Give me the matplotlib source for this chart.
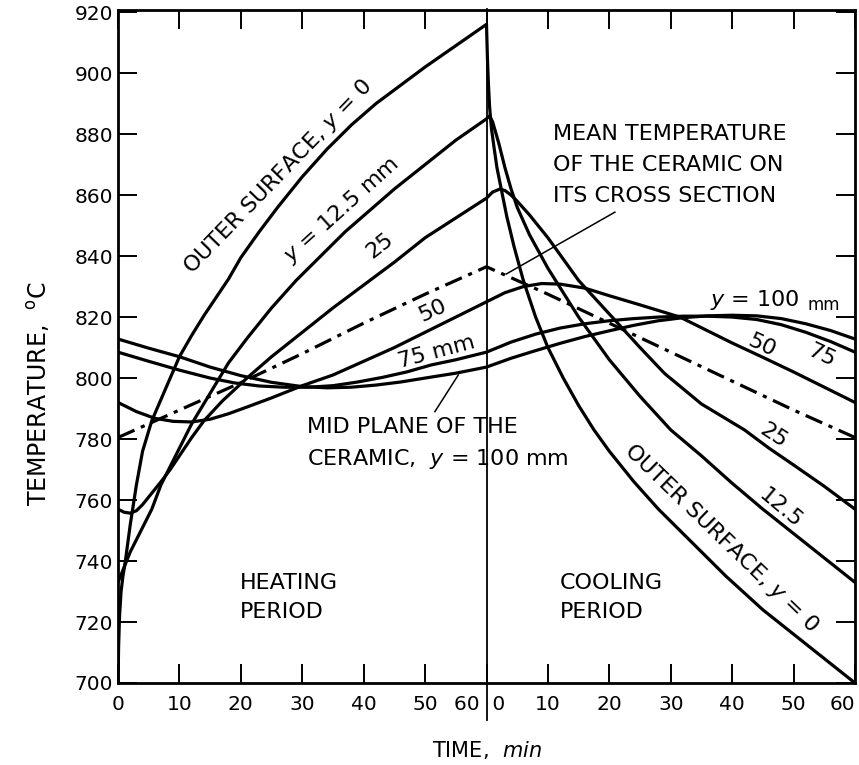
import numpy as np
import matplotlib
matplotlib.use('Agg')
import matplotlib.pyplot as plt

# time axis: 0-60 heating, 60-120 cooling (cooling minutes + 60)

# outer surface, y = 0
t_0 = [0, 0.1, 0.25, 0.5, 0.8, 1.2, 2, 3, 4, 5.5, 7, 8.5, 10, 12, 14, 16, 18, 20, 23, 26, 30, 34, 38, 42, 46, 50, 55, 60,
       60.15, 60.3, 60.5, 60.8, 61.2, 61.7, 62.5, 63.3, 64.5, 66, 68, 70, 72.5, 75, 77.5, 80, 84, 88, 93, 99, 105, 110, 115, 120]
T_0 = [700, 712, 722, 730, 735, 740, 752, 765, 776, 786, 793, 800, 807, 814, 820.5, 826.5, 832.5, 839.5, 848, 856, 866, 875, 883, 890, 896, 902, 909, 916,
       905, 897, 889, 882, 876, 869, 861, 853, 843, 832, 820, 810, 800, 791, 783, 776, 766, 757, 747, 735, 724, 716, 708, 700]

# y = 12.5 mm
t_12 = [0, 1, 2, 3, 4, 5.5, 7, 9, 12, 15, 18, 21, 25, 29, 33, 37, 41, 45, 50, 55, 60,
        60.5, 61, 62, 63, 64, 65, 67, 70, 75, 80, 85, 90, 95, 100, 105, 110, 115, 120]
T_12 = [733, 738, 743, 747, 751, 757, 765, 773, 785, 795, 805, 813, 823, 832, 840, 848, 855, 862, 870, 878, 885,
        886, 884, 877, 869, 862, 856, 847, 836, 820, 806, 794, 783, 774.5, 765.5, 757, 749, 741, 733]

# y = 25 mm
t_25 = [0, 1, 2, 3, 4, 5, 6, 7, 8.5, 10, 12, 14, 17, 21, 25, 30, 35, 40, 45, 50, 55, 60,
        61, 62.2, 63, 64, 65, 67, 70, 75, 80, 85, 89, 95, 102, 106, 110, 115, 120]
T_25 = [757, 756, 755.7, 756.5, 758.5, 761, 763.5, 766, 770, 774.5, 780.5, 786, 792.5, 800, 807, 815, 823, 830.5, 838, 846, 852.5, 859,
        861, 862, 861.5, 860, 858, 853.5, 846, 832, 821, 810, 801.5, 791.5, 783, 777, 771.5, 764.5, 757]

# y = 50 mm
t_50 = [0, 3, 6, 9, 12, 15, 18, 21, 25, 30, 35, 40, 45, 50, 55, 60,
        63, 66, 69, 72, 76, 80, 85, 91.5, 96, 100, 105, 110, 115, 120]
T_50 = [792, 789, 786.8, 785.8, 785.6, 786.5, 788.3, 790.5, 793.5, 797.5, 801, 805.5, 810, 815, 820, 825,
        828, 830, 831, 830.8, 829.5, 827, 824, 820, 815.5, 811.5, 806.8, 802, 797, 792]

# y = 75 mm
t_75 = [0, 5, 10, 15, 19, 23, 27, 31, 35, 39, 43, 47, 51, 55, 60,
        64, 68, 72, 76, 80, 84, 88, 92, 96, 100, 104, 108, 112, 116, 120]
T_75 = [808.5, 805.5, 802.6, 800, 798.4, 797.4, 797, 797, 797.5, 798.7, 800.2, 802, 804.3, 806, 808.5,
        811.8, 814.4, 816.4, 817.8, 818.8, 819.5, 820, 820.3, 820.3, 820, 819.2, 817.5, 815, 812, 808.5]

# mid plane, y = 100 mm
t_100 = [0, 5, 10, 15, 20, 25, 30, 34, 38, 42, 46, 50, 55, 60,
         64, 68, 72, 76, 80, 84, 88, 92, 96, 100, 104, 108, 112, 116, 120]
T_100 = [812.8, 809.8, 807, 803.6, 800.8, 798.6, 797.2, 796.8, 797, 797.7, 798.7, 800, 801.6, 803.6,
         806.5, 809, 811.4, 813.6, 815.5, 817.3, 818.8, 819.8, 820.4, 820.6, 820.4, 819.5, 817.8, 815.6, 812.8]

# mean temperature over the cross section
t_mean = [0, 10, 20, 30, 40, 50, 60, 70, 80, 90, 100, 110, 120]
T_mean = [780.5, 789.5, 798.5, 808, 818, 827.5, 836.5, 827.5, 818, 808.5, 799, 789.5, 780.5]

xticks = np.arange(0, 121, 10)
xlabels = ['0', '10', '20', '30', '40', '50', '60 ', '10', '20', '30', '40', '50', '60']
yticks = np.arange(700, 921, 20)

plt.rcParams['font.family'] = 'DejaVu Sans'
plt.rcParams['lines.scale_dashes'] = False

fig = plt.figure(figsize=(8.59, 7.65), dpi=100)
ax = fig.add_axes([118 / 859, 82 / 765, 737 / 859, 673 / 765])

lw = 2.3
for t, T in [(t_0, T_0), (t_12, T_12), (t_25, T_25), (t_50, T_50), (t_75, T_75), (t_100, T_100)]:
    ax.plot(t, T, color='black', lw=lw, solid_joinstyle='round', solid_capstyle='round')
ax.plot(t_mean, T_mean, color='black', lw=lw, dashes=(13, 5, 3, 5), dash_capstyle='butt')

# heating / cooling divider
ax.plot([60, 60], [688, 921], color='black', lw=1.3, clip_on=False)

ax.set_xlim(0, 120)
ax.set_ylim(700, 920.7)

ax.set_xticks(xticks)
ax.set_xticklabels(xlabels)
ax.set_xticks([60], minor=True)
ax.set_xticklabels([' 0'], minor=True)
ax.xaxis.remove_overlapping_locs = False
ax.set_yticks(yticks)

ax.tick_params(axis='both', which='major', direction='in', length=14, width=1.4,
               top=True, right=True, labelsize=14.5)
ax.tick_params(axis='x', which='major', pad=9)
ax.tick_params(axis='x', which='minor', length=0, pad=9, labelsize=14.5)
lbls = ax.get_xticklabels()
lbls[6].set_ha('right')
lbls[12].set_ha('right')
for lb in ax.get_xticklabels(minor=True):
    lb.set_ha('left')

for s in ax.spines.values():
    s.set_linewidth(2)

ax.set_xlabel('TIME,  $\\mathit{min}$', fontsize=15)
ax.xaxis.set_label_coords(0.5, -0.083)
ax.set_ylabel('TEMPERATURE,  $^{\\rm o}$C', fontsize=17)
ax.yaxis.set_label_coords(-0.09, 0.43)

fs = 16
ax.text(26, 866, 'OUTER SURFACE, $\\mathit{y}$ = 0', rotation=46, fontsize=fs,
        ha='center', va='center', rotation_mode='anchor')
ax.text(36.4, 855, '$\\mathit{y}$ = 12.5 mm', rotation=42, fontsize=fs,
        ha='center', va='center', rotation_mode='anchor')
ax.text(42.6, 843.5, '25', rotation=38, fontsize=fs, ha='center', va='center', rotation_mode='anchor')
ax.text(51.3, 822, '50', rotation=25, fontsize=fs, ha='center', va='center', rotation_mode='anchor')
ax.text(51.9, 808.6, '75 mm', rotation=15, fontsize=fs, ha='center', va='center', rotation_mode='anchor')

ax.text(104.8, 810.8, '50', rotation=-25, fontsize=fs, ha='center', va='center', rotation_mode='anchor')
ax.text(114.6, 807.5, '75', rotation=-25, fontsize=fs, ha='center', va='center', rotation_mode='anchor')
ax.text(106.8, 781.1, '25', rotation=-33, fontsize=fs, ha='center', va='center', rotation_mode='anchor')
ax.text(107.9, 757.3, '12.5', rotation=-40, fontsize=fs, ha='center', va='center', rotation_mode='anchor')
ax.text(98.3, 747.4, 'OUTER SURFACE, $\\mathit{y}$ = 0', rotation=-44, fontsize=fs,
        ha='center', va='center', rotation_mode='anchor')

ax.text(96.4, 825.6, '$\\mathit{y}$ = 100', fontsize=fs, ha='left', va='center')
ax.text(112.3, 823.8, 'mm', fontsize=12, ha='left', va='center')

ax.text(70.8, 869.8, 'MEAN TEMPERATURE\nOF THE CERAMIC ON\nITS CROSS SECTION', fontsize=fs,
        ha='left', va='center', linespacing=1.7)
ax.plot([80.9, 63.2], [854.4, 834.1], color='black', lw=1.1)

ax.text(30.8, 778.4, 'MID PLANE OF THE\nCERAMIC,  $\\mathit{y}$ = 100 mm', fontsize=fs,
        ha='left', va='center', linespacing=1.6)
ax.plot([51.6, 55.4], [789, 801], color='black', lw=1.1)

ax.text(19.9, 728, 'HEATING\nPERIOD', fontsize=fs, ha='left', va='center', linespacing=1.6)
ax.text(72, 728, 'COOLING\nPERIOD', fontsize=fs, ha='left', va='center', linespacing=1.6)

fig.savefig('out.png', dpi=100)
